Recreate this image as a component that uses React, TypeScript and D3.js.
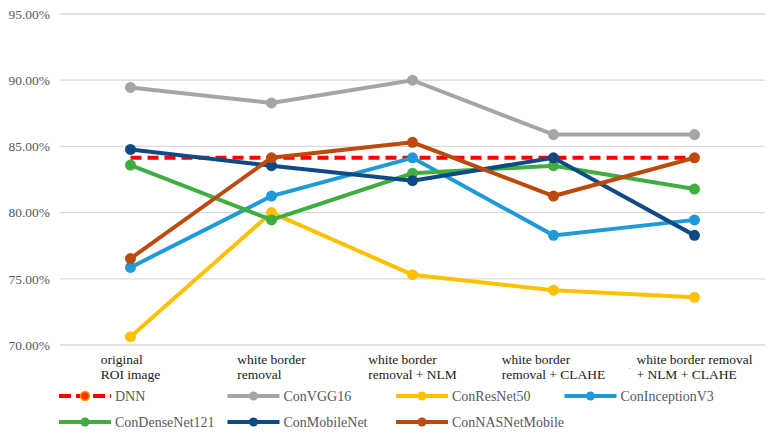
import React from "react";
import * as d3 from "d3";

const categories = [
  ["original", "ROI image"],
  ["white border", "removal"],
  ["white border", "removal + NLM"],
  ["white border", "removal + CLAHE"],
  ["white border removal", "+ NLM + CLAHE"],
];
const yTicks = [0.7, 0.75, 0.8, 0.85, 0.9, 0.95];

const seriesNames = ["DNN", "ConVGG16", "ConResNet50", "ConInceptionV3", "ConDenseNet121", "ConMobileNet", "ConNASNetMobile"];
const dnn = [0.8414, 0.8414, 0.8414, 0.8414, 0.8414];
const vgg16 = [0.8945, 0.8828, 0.9, 0.8589, 0.8589];
const resnet50 = [0.7063, 0.8, 0.7531, 0.7414, 0.7360];
const inceptionV3 = [0.7586, 0.8125, 0.8414, 0.7828, 0.7945];
const denseNet121 = [0.8359, 0.7945, 0.8297, 0.8354, 0.8178];
const mobileNet = [0.8477, 0.8354, 0.8241, 0.8414, 0.7828];
const nasNetMobile = [0.7653, 0.8414, 0.8531, 0.8125, 0.8414];

const colors = ["#ff0000", "#a5a5a5", "#ffc000", "#1f9ad8", "#3fae3f", "#0f4a84", "#bb4a0c"];
const FONT = '"Liberation Serif"';

function measure(text: string, size: number) {
  const c = document.createElement("canvas").getContext("2d");
  if (!c) return text.length * size * 0.45;
  c.font = `${size}px "Liberation Serif"`;
  return c.measureText(text).width;
}

export default function App() {
  const x = d3.scaleBand<number>().domain(d3.range(categories.length)).range([60, 765]);
  const y = d3.scaleLinear().domain([0.7, 0.95]).range([345, 14]);
  const cx = (i: number) => (x(i) as number) + x.bandwidth() / 2;
  const line = d3.line<number>().x((_, i) => cx(i)).y((d) => y(d));
  const data = [dnn, vgg16, resnet50, inceptionV3, denseNet121, mobileNet, nasNetMobile];
  const fmt = d3.format(".2%");

  return (
    <svg width={772} height={435} style={{ position: "absolute", left: 0, top: 0, background: "#fff" }}>
      <g>
        {yTicks.map((t) => (
          <g key={t}>
            <line x1={60} x2={765} y1={y(t)} y2={y(t)} stroke="#d9d9d9" strokeWidth={1.3} />
            <text x={50} y={y(t)} dy="0.35em" textAnchor="end" fill="#595959"
              style={{ fontFamily: FONT, fontSize: "13.5px" }}>{fmt(t)}</text>
          </g>
        ))}
      </g>
      <g>
        {categories.map((lines, i) => {
          const w = Math.max(...lines.map((l) => measure(l, 13.5)));
          const left = cx(i) - w / 2;
          return (
            <text key={i} fill="#1a1a1a" style={{ fontFamily: FONT, fontSize: "13.5px" }}>
              {lines.map((l, j) => (
                <tspan key={j} x={left} y={364 + j * 15}>{l}</tspan>
              ))}
            </text>
          );
        })}
        <text x={cx(4) - 66} y={369} fill="#999" style={{ fontFamily: FONT, fontSize: "9px" }}>.</text>
      </g>
      {data.map((s, k) => (
        <g key={k}>
          <path d={line(s) || ""} fill="none" stroke={colors[k]} strokeWidth={4}
            strokeDasharray={k === 0 ? "11,6" : undefined} />
          {k > 0 && s.map((v, i) => (
            <circle key={i} cx={cx(i)} cy={y(v)} r={5.5} fill={colors[k]} />
          ))}
        </g>
      ))}
      <g>
        {seriesNames.map((name, k) => {
          const col = k < 4 ? k : k - 4;
          const row = k < 4 ? 0 : 1;
          const lx = 59 + col * 168.5;
          const ly = 396 + row * 26;
          return (
            <g key={name}>
              <line x1={lx} x2={lx + 52} y1={ly} y2={ly} stroke={colors[k]} strokeWidth={4}
                strokeDasharray={k === 0 ? "12,5" : undefined} />
              <circle cx={lx + 26} cy={ly} r={4.5} fill={k === 0 ? "#ff3300" : colors[k]}
                stroke={k === 0 ? "#ff9900" : "none"} strokeWidth={1.5} />
              <text x={lx + 56} y={ly} dy="0.35em" fill="#595959"
                style={{ fontFamily: FONT, fontSize: "14px" }}>{name}</text>
            </g>
          );
        })}
      </g>
    </svg>
  );
}
